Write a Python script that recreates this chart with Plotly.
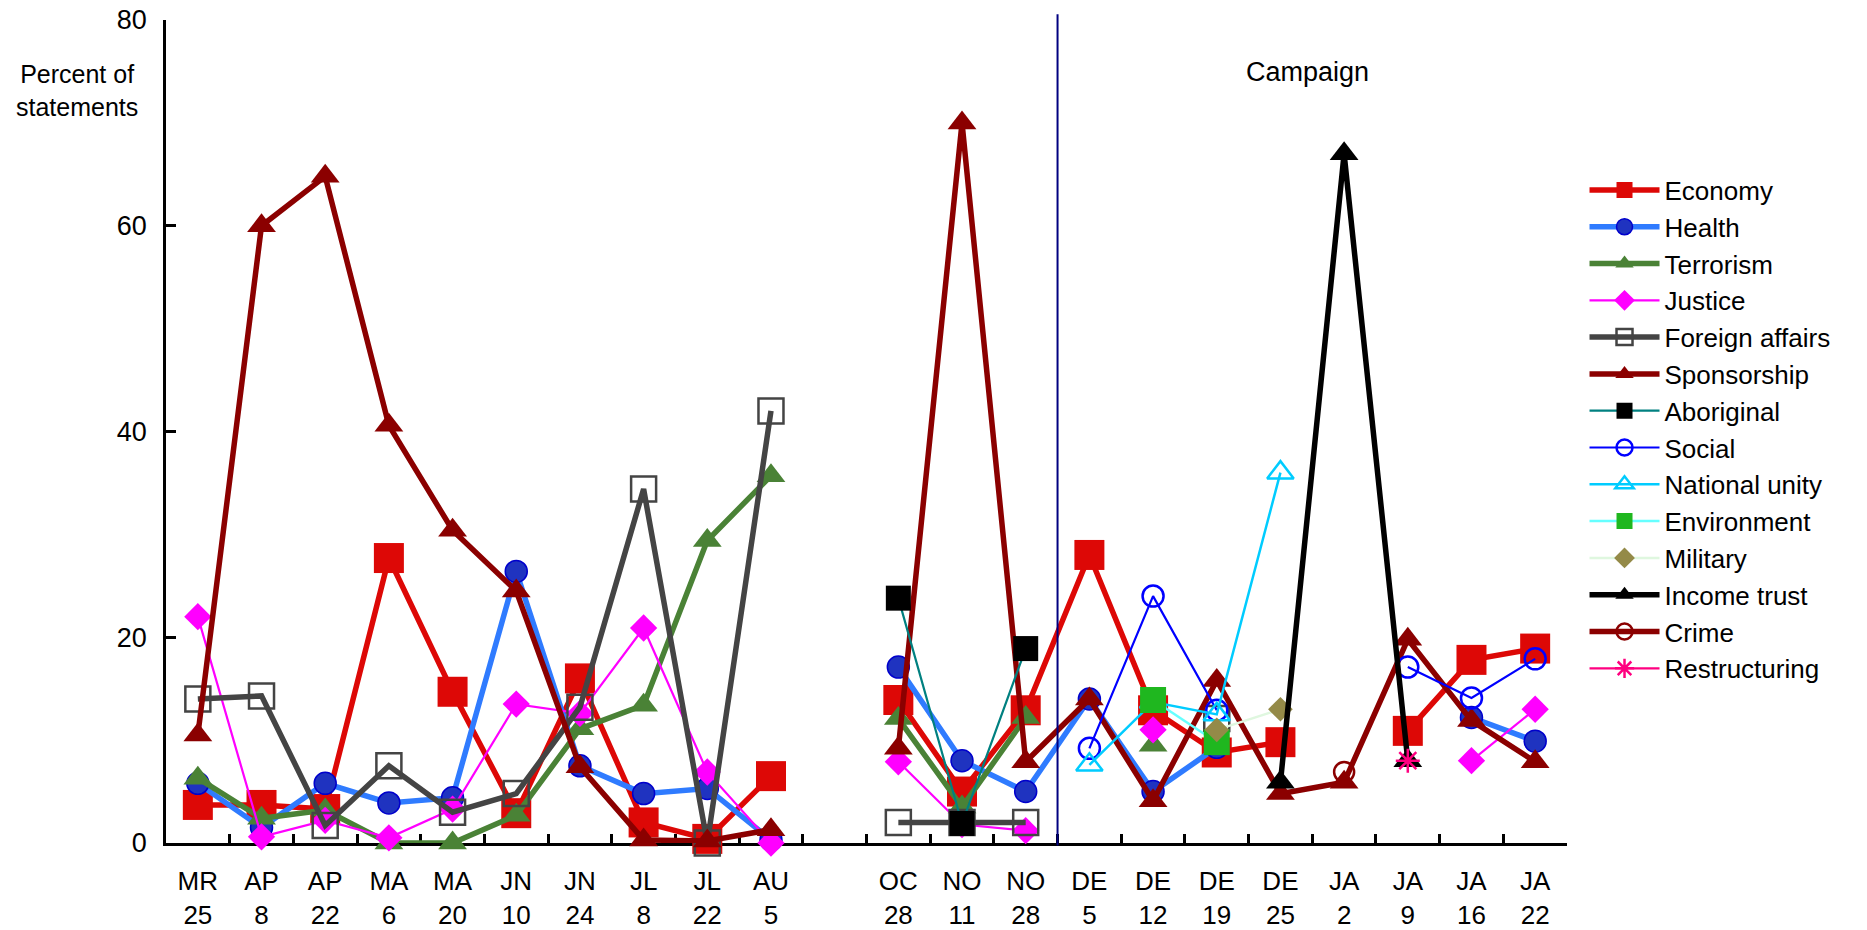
import plotly.graph_objects as go

# Survey dates (a blank slot separates the summer break from the fall)
dates = ["MR<br>25", "AP<br>8", "AP<br>22", "MA<br>6", "MA<br>20", "JN<br>10",
         "JN<br>24", "JL<br>8", "JL<br>22", "AU<br>5", " ",
         "OC<br>28", "NO<br>11", "NO<br>28", "DE<br>5", "DE<br>12", "DE<br>19",
         "DE<br>25", "JA<br>2", "JA<br>9", "JA<br>16", "JA<br>22"]

N = None
economy = [3.7, 3.7, 3.3, 27.7, 14.7, 2.9, 16.0, 2.0, 0.4, 6.5, N,
           13.9, 5.0, 12.9, 28.0, 12.9, 8.8, 9.8, N, 10.9, 17.8, 18.9]
health = [5.8, 1.5, 5.8, 3.9, 4.4, 26.4, 7.5, 4.8, 5.3, 0.3, N,
          17.1, 8.0, 5.0, 14.0, 5.0, 9.3, N, N, N, 12.2, 9.9]
terrorism = [6.3, 2.4, 3.2, 0.0, 0.0, 2.7, 11.1, 13.4, 29.4, 35.7, N,
             12.1, 3.5, 12.2, N, 9.5, N, N, N, N, N, N]
justice = [22.0, 0.6, 2.2, 0.5, 3.3, 13.5, 12.6, 20.9, 6.9, 0.0, N,
           7.9, 1.8, 1.2, N, 11.0, N, N, N, N, 8.0, 13.0]
foreign_affairs = [14.0, 14.3, 1.7, 7.5, 3.0, 4.8, 13.2, 34.4, 0.0, 42.0, N,
                   2.0, 2.0, 2.0, N, N, 12.1, N, N, N, N, N]
sponsorship = [10.5, 60.0, 64.8, 40.6, 30.4, 24.5, 7.4, 0.3, 0.2, 1.3, N,
               9.2, 70.0, 7.9, 14.0, 4.1, 15.8, 4.8, 5.9, 19.8, 11.9, 7.9]
aboriginal = [N, N, N, N, N, N, N, N, N, N, N,
              23.8, 1.9, 18.9, N, N, N, N, N, N, N, N]
social = [N, N, N, N, N, N, N, N, N, N, N,
          N, N, N, 9.2, 24.0, 12.9, N, N, 17.1, 14.1, 17.9]
national_unity = [N, N, N, N, N, N, N, N, N, N, N,
                  N, N, N, 7.6, 13.7, 12.5, 36.0, N, N, N, N]
environment = [N, N, N, N, N, N, N, N, N, N, N,
               N, N, N, N, 13.9, 9.8, N, N, N, N, N]
military = [N, N, N, N, N, N, N, N, N, N, N,
            N, N, N, N, N, 11.0, 13.0, N, N, N, N]
income_trust = [N, N, N, N, N, N, N, N, N, N, N,
                N, N, N, N, N, N, 5.9, 67.0, 8.0, N, N]
crime = [N, N, N, N, N, N, N, N, N, N, N,
         N, N, N, N, N, N, N, 6.9, N, N, N]
restructuring = [N, N, N, N, N, N, N, N, N, N, N,
                 N, N, N, N, N, N, N, N, 8.0, N, N]

y_ticks = [0, 20, 40, 60, 80]

FONT = "Liberation Sans, Arial, sans-serif"

# name, values, line colour, line width, symbol, marker size, fill, outline colour, outline width
series = [
    ("Economy", economy, "#DD0806", 5.5, "square", 30, "#DD0806", "#DD0806", 0),
    ("Health", health, "#2F7BFF", 5.5, "circle", 22, "#1F33C0", "#0000CC", 1.5),
    ("Terrorism", terrorism, "#4A8236", 5.5, "triangle-up", 25, "#4A8236", "#4A8236", 0),
    ("Justice", justice, "#FF00FF", 2.2, "diamond", 21, "#FF00FF", "#FF00FF", 0),
    ("Foreign affairs", foreign_affairs, "#444444", 5.5, "square-open", 25, "#444444", "#444444", 2.5),
    ("Sponsorship", sponsorship, "#8B0000", 5.5, "triangle-up", 25, "#8B0000", "#8B0000", 0),
    ("Aboriginal", aboriginal, "#008080", 2.2, "square", 25, "#000000", "#000000", 0),
    ("Social", social, "#0000FF", 2.2, "circle-open", 21, "#0000FF", "#0000FF", 2.5),
    ("National unity", national_unity, "#00CCFF", 2.5, "triangle-up-open", 23, "#00CCFF", "#00CCFF", 2.5),
    ("Environment", environment, "#66FFFF", 2.5, "square", 26, "#1FB71F", "#1FB71F", 0),
    ("Military", military, "#DFF7DF", 2.5, "diamond", 19, "#948A48", "#948A48", 0),
    ("Income trust", income_trust, "#000000", 5.5, "triangle-up", 25, "#000000", "#000000", 0),
    ("Crime", crime, "#8B0000", 5.5, "circle-open", 20, "#8B0000", "#8B0000", 2.5),
    ("Restructuring", restructuring, "#FF0080", 2.2, "asterisk-open", 20, "#FF0080", "#FF0080", 2.5),
]

fig = go.Figure()
for name, vals, lc, lw, sym, ms, fill, oc, ow in series:
    fig.add_trace(go.Scatter(
        x=dates, y=vals, name=name, mode="lines+markers",
        line=dict(color=lc, width=lw),
        marker=dict(symbol=sym, size=ms, color=fill,
                    line=dict(color=oc, width=ow)),
        connectgaps=False, cliponaxis=False,
    ))

# Start of the election campaign
fig.add_shape(type="line", xref="paper", yref="paper",
              x0=(13.5 + 0.5) / 22, x1=(13.5 + 0.5) / 22, y0=-0.003, y1=1.007,
              line=dict(color="#000080", width=2))

fig.add_annotation(text="Campaign", xref="paper", yref="paper",
                   x=0.8145, y=0.937, xanchor="center", yanchor="middle",
                   showarrow=False,
                   font=dict(size=27, color="black", family=FONT))
fig.add_annotation(text="Percent of<br>statements", xref="paper", yref="paper",
                   x=-0.0635, y=0.914, xanchor="center", yanchor="middle",
                   showarrow=False, align="center",
                   font=dict(size=25, color="black", family=FONT))

fig.update_layout(
    template="none",
    width=1867, height=930,
    margin=dict(l=165.6, r=300.4, t=20, b=87.3, autoexpand=False),
    paper_bgcolor="white", plot_bgcolor="white",
    font=dict(family=FONT, color="black"),
    showlegend=True,
    legend=dict(x=1.0125, xanchor="left", y=0.822, yanchor="top",
                font=dict(size=26, family=FONT, color="black"),
                itemwidth=70, tracegroupgap=0, bgcolor="rgba(0,0,0,0)",
                borderwidth=0, itemclick=False, itemdoubleclick=False),
    xaxis=dict(type="category", categoryorder="array", categoryarray=dates,
               range=[-0.5, len(dates) - 0.5], tickson="boundaries",
               ticks="inside", ticklen=9, tickwidth=2.5, tickcolor="black",
               showline=True, linecolor="black", linewidth=2.5,
               showgrid=False, zeroline=False, layer="below traces",
               automargin=False,
               tickfont=dict(size=26, family=FONT, color="black"),
               ticklabelstandoff=13),
    yaxis=dict(range=[0, 80], tickvals=y_ticks, ticks="inside", ticklen=10,
               tickwidth=2.5, tickcolor="black",
               showline=True, linecolor="black", linewidth=2.5,
               showgrid=False, zeroline=False, layer="below traces",
               automargin=False,
               tickfont=dict(size=27, family=FONT, color="black"),
               ticklabelstandoff=11),
)

fig.write_html("out.html")
